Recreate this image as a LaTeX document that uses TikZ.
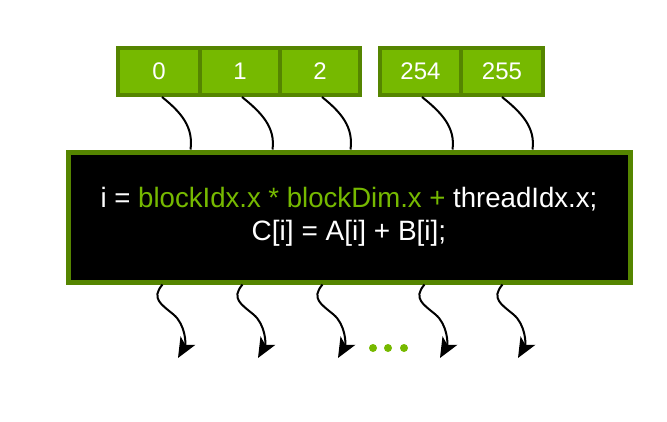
\documentclass[tikz,border=0pt]{standalone}
\usepackage{fontspec}
\setmainfont{Liberation Sans}
\usetikzlibrary{arrows.meta,calc}
\definecolor{nvgreen}{HTML}{76B900}
\definecolor{nvdark}{HTML}{558500}
\begin{document}
\begin{tikzpicture}[x=1pt,y=-1pt,
  cell/.style={draw=nvdark,fill=nvgreen,line width=4pt,minimum height=47pt,inner sep=0pt,text=white,font=\fontsize{24}{28}\selectfont},
  mainbox/.style={draw=nvdark,fill=black,line width=5pt,minimum width=562pt,minimum height=130pt,inner sep=0pt,align=center,text=white,font=\fontsize{28}{33}\selectfont},
  wire/.style={line width=2pt,black},
  inwire/.style={wire,to path={.. controls +(20,16) and +(3,-22) .. (\tikztotarget)}},
  outwire/.style={wire,-{Stealth[length=20pt,width=17pt,inset=5pt]},
    to path={.. controls +(-12,14) and +(-12,-10) .. ($(\tikztostart)+(11,30)$) .. controls +(12,10) and +(8,-14) .. (\tikztotarget)}},
  dot/.style={circle,fill=nvgreen,inner sep=0pt,minimum size=8pt}
]
\useasboundingbox (0,0) rectangle (667,421);
\node[cell,minimum width=82pt] (c0) at (159,71.5) {0};
\node[cell,minimum width=80pt] (c1) at (240,71.5) {1};
\node[cell,minimum width=80pt] (c2) at (320,71.5) {2};
\node[cell,minimum width=81pt] (c254) at (420.5,71.5) {254};
\node[cell,minimum width=82pt] (c255) at (502,71.5) {255};
\node[mainbox] (main) at (349,217) {\scalebox{0.985}[1]{i = \textcolor{nvgreen}{blockIdx.x * blockDim.x +} threadIdx.x;}\\C[i] = A[i] + B[i];};
\draw[inwire] ([xshift=3pt]c0.south) to ($(main.north west)+(125,0)$);
\draw[inwire] ([xshift=2pt]c1.south) to ($(main.north west)+(207,0)$);
\draw[inwire] ([xshift=2pt]c2.south) to ($(main.north west)+(285,0)$);
\draw[inwire] ([xshift=1.5pt]c254.south) to ($(main.north west)+(387,0)$);
\draw[inwire] ([xshift=0pt]c255.south) to ($(main.north west)+(467,0)$);
\coordinate (t1) at (178,358);
\coordinate (t2) at (258,358);
\coordinate (t3) at (338,358);
\coordinate (t4) at (440,358);
\coordinate (t5) at (518,358);
\draw[outwire] ($(main.south west)+(97,0)$) to (t1);
\draw[outwire] ($(main.south west)+(177,0)$) to (t2);
\draw[outwire] ($(main.south west)+(257,0)$) to (t3);
\draw[outwire] ($(main.south west)+(359,0)$) to (t4);
\draw[outwire] ($(main.south west)+(437,0)$) to (t5);
\node[dot] (d1) at (373,348) {};
\node[dot] (d2) at (388,348) {};
\node[dot] (d3) at (404,348) {};
\end{tikzpicture}
\end{document}
